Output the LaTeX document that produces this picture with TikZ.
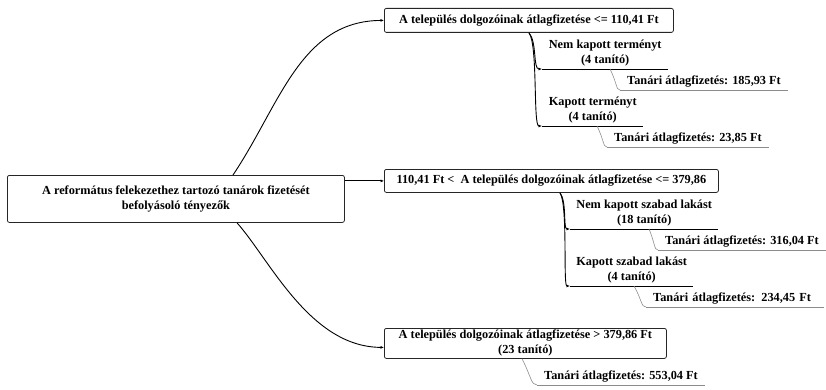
\documentclass[tikz,border=0pt]{standalone}
\usepackage{fontspec}
\setmainfont{Liberation Serif}
\usetikzlibrary{arrows.meta,calc}
\begin{document}
\begin{tikzpicture}[x=1pt,y=-1pt,
  every node/.style={font=\fontsize{12.3}{15}\selectfont\bfseries, inner sep=0pt},
  box/.style={draw=black!85, line width=0.8pt, rounded corners=2pt, align=center, anchor=north west},
  branch/.style={line width=0.9pt, -{Latex[length=3.5pt,width=3pt]}},
  sublabel/.style={align=center, anchor=south west, inner ysep=2.5pt},
  underline/.style={line width=0.9pt},
  leaf/.style={anchor=south west, inner xsep=7pt, inner ysep=2.5pt, align=left},
  leafline/.style={black!45, line width=0.6pt},
]
\useasboundingbox (0,0) rectangle (826,390);

% main boxes
\node[box, minimum width=337, minimum height=47] (root) at (7,175)
  {A református felekezethez tartozó tanárok fizetését\\befolyásoló tényezők};
\node[box, minimum width=289, minimum height=24] (b1) at (384,8)
  {A település dolgozóinak átlagfizetése <= 110,41 Ft};
\node[box, minimum width=334, minimum height=23] (b2) at (384,169)
  {110,41 Ft <\ \ A település dolgozóinak átlagfizetése <= 379,86};
\node[box, minimum width=282, minimum height=30] (b3) at (384,328)
  {A település dolgozóinak átlagfizetése > 379,86 Ft\\(23 tanító)};

% root connectors
\draw[branch] ($(root.north west)+(226,0)$) .. controls (280,105) and (300,21) .. (b1.west);
\draw[branch] (root.east |- b2.west) -- (b2.west);
\draw[branch] ($(root.south west)+(230,0)$) .. controls (270,260) and (310,347) .. ($(b3.west)+(0,4)$);

% sub-branches of b1
\node[sublabel, minimum width=126] (s11) at (542,69) {Nem kapott terményt\\(4 tanító)};
\node[sublabel, minimum width=101] (s12) at (542,126) {Kapott terményt\\(4 tanító)};
\draw[underline] (s11.south west) -- (s11.south east);
\draw[underline] (s12.south west) -- (s12.south east);
\draw[branch] ($(b1.south west)+(145,0)$) .. controls (537,42) and (533,69) .. (s11.south west);
\draw[branch] ($(b1.south west)+(145,0)$) .. controls (538,45) and (533,126) .. (s12.south west);

% sub-branches of b2
\node[sublabel, minimum width=148] (s21) at (570,229) {Nem kapott szabad lakást\\(18 tanító)};
\node[sublabel, minimum width=123] (s22) at (570,286) {Kapott szabad lakást\\(4 tanító)};
\draw[underline] (s21.south west) -- (s21.south east);
\draw[underline] (s22.south west) -- (s22.south east);
\draw[branch] ($(b2.south west)+(176,0)$) .. controls (567,202) and (563,229) .. (s21.south west);
\draw[branch] ($(b2.south west)+(176,0)$) .. controls (568,205) and (563,286) .. (s22.south west);

% leaves
\node[leaf] (l11) at (620,90) {Tanári átlagfizetés: 185,93 Ft};
\node[leaf] (l12) at (607,147) {Tanári átlagfizetés: 23,85 Ft};
\node[leaf] (l21) at (658,250) {Tanári átlagfizetés: 316,04 Ft};
\node[leaf, text width=164] (l22) at (646,307) {Tanári átlagfizetés: 234,45 Ft};
\node[leaf] (l3) at (537,385) {Tanári átlagfizetés: 553,04 Ft};
\foreach \n in {l11,l12,l21,l22,l3}
  \draw[leafline] (\n.south west) -- (\n.south east);

\coordinate (c11) at ($(s11.south west)+(68,0)$);
\coordinate (c12) at ($(s12.south west)+(55,0)$);
\coordinate (c21) at ($(s21.south west)+(79,0)$);
\coordinate (c22) at ($(s22.south west)+(64,0)$);
\coordinate (c3) at ($(b3.south west)+(138,0)$);
\draw[leafline] (c11) .. controls (617,83) and (616,90) .. (l11.south west);
\draw[leafline] (c12) .. controls (604,140) and (603,147) .. (l12.south west);
\draw[leafline] (c21) .. controls (655,243) and (654,250) .. (l21.south west);
\draw[leafline] (c22) .. controls (642,300) and (641,307) .. (l22.south west);
\draw[leafline] (c3) .. controls (531,376) and (531,385) .. (l3.south west);
\end{tikzpicture}
\end{document}
